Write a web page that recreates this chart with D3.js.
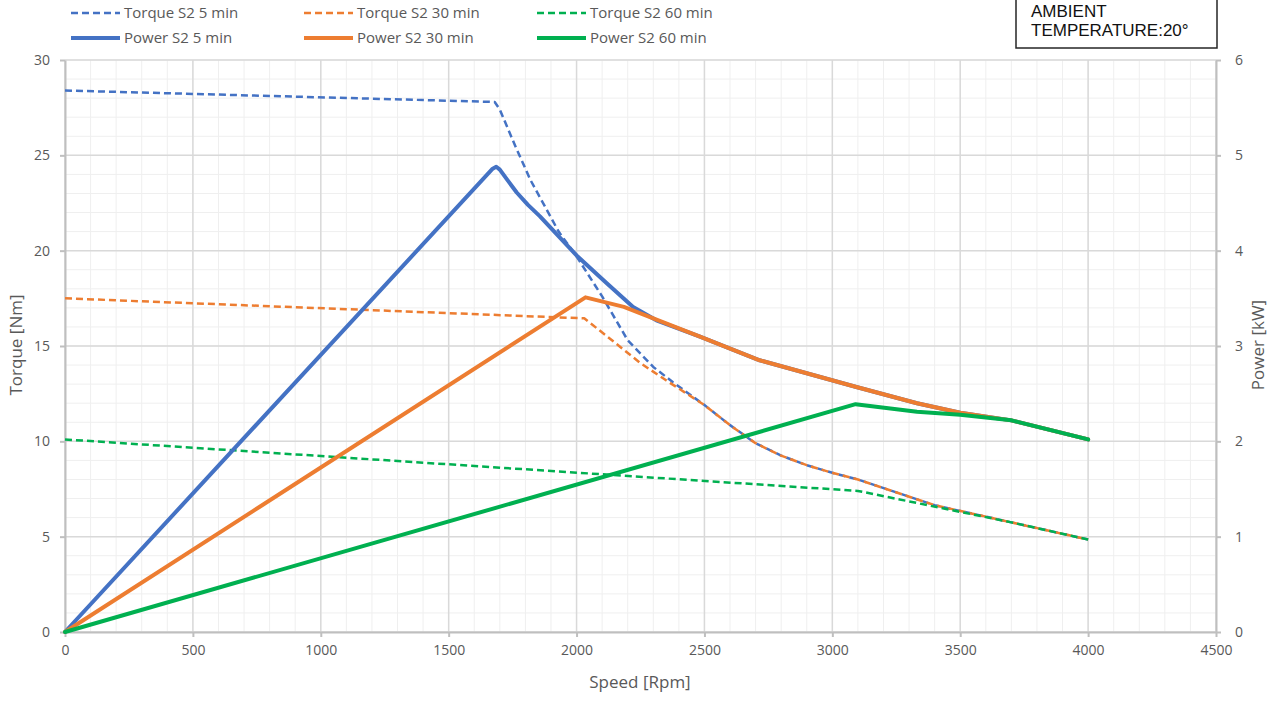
<!DOCTYPE html>
<html>
<head>
<meta charset="utf-8">
<script src="https://cdn.jsdelivr.net/npm/d3@7"></script>
<style>
body { margin: 0; background: #fff; }
svg text { font-family: "Open Sans", "Noto Sans", sans-serif; fill: #595959; }
</style>
</head>
<body>
<svg id="chart" width="1280" height="706"></svg>
<script>
// speed [rpm] / torque [Nm]
var torque5 = [[0, 28.4], [1680, 27.8], [1700, 27.4], [1760, 25.5], [1820, 23.7], [1930, 21.0], [2000, 19.7],
	[2100, 17.6], [2200, 15.3], [2300, 13.9], [2377, 13.1], [2500, 11.9], [2600, 10.85], [2700, 9.9],
	[2800, 9.25], [2900, 8.75], [3000, 8.35], [3100, 8.0], [3400, 6.65], [3700, 5.75], [4000, 4.85]];
var torque30 = [[0, 17.5], [2030, 16.45], [2120, 15.5], [2250, 14.1], [2350, 13.2], [2500, 11.9],
	[2600, 10.85], [2700, 9.9], [2800, 9.25], [2900, 8.75], [3000, 8.35], [3100, 8.0], [3400, 6.65],
	[3700, 5.75], [4000, 4.85]];
var torque60 = [[0, 10.1], [3100, 7.4], [3700, 5.75], [4000, 4.85]];

// speed [rpm] / power [kW]
var power5 = [[0, 0], [1672, 4.86], [1686, 4.88], [1700, 4.85], [1730, 4.74], [1766, 4.61], [1810, 4.48],
	[1857, 4.36], [2000, 3.95], [2117, 3.66], [2221, 3.41], [2312, 3.27], [2480, 3.1], [2716, 2.85],
	[3094, 2.57], [3331, 2.4], [3500, 2.3], [3700, 2.22], [4000, 2.02]];
var power30 = [[0, 0], [2035, 3.51], [2185, 3.41], [2300, 3.29], [2480, 3.1], [2716, 2.85], [3094, 2.57],
	[3331, 2.4], [3500, 2.3], [3700, 2.22], [4000, 2.02]];
var power60 = [[0, 0], [3091, 2.39], [3331, 2.31], [3500, 2.28], [3700, 2.22], [4000, 2.02]];

var seriesNames = ["Torque S2 5 min", "Torque S2 30 min", "Torque S2 60 min",
	"Power S2 5 min", "Power S2 30 min", "Power S2 60 min"];
var seriesColors = ["#4472C4", "#ED7D31", "#00B050"];

var speedTicks = [0, 500, 1000, 1500, 2000, 2500, 3000, 3500, 4000, 4500];
var torqueTicks = [0, 5, 10, 15, 20, 25, 30];
var powerTicks = [0, 1, 2, 3, 4, 5, 6];

var svg = d3.select("#chart");

var x = d3.scaleLinear().domain([0, 4500]).range([65, 1216]);
var yT = d3.scaleLinear().domain([0, 30]).range([632, 60]);
var yP = d3.scaleLinear().domain([0, 6]).range([632, 60]);

// grid
var grid = svg.append("g");
grid.selectAll("line.minx")
	.data(d3.range(0, 4501, 100))
	.enter().append("line")
	.attr("x1", function (d) { return x(d); })
	.attr("x2", function (d) { return x(d); })
	.attr("y1", yT(30))
	.attr("y2", yT(0))
	.style("stroke", "#efefef")
	.style("stroke-width", 1);
grid.selectAll("line.miny")
	.data(d3.range(0, 31, 1))
	.enter().append("line")
	.attr("x1", x(0))
	.attr("x2", x(4500))
	.attr("y1", function (d) { return yT(d); })
	.attr("y2", function (d) { return yT(d); })
	.style("stroke", "#efefef")
	.style("stroke-width", 1);
grid.selectAll("line.majx")
	.data(speedTicks)
	.enter().append("line")
	.attr("x1", function (d) { return x(d); })
	.attr("x2", function (d) { return x(d); })
	.attr("y1", yT(30))
	.attr("y2", yT(0))
	.style("stroke", "#d9d9d9")
	.style("stroke-width", 1.5);
grid.selectAll("line.majy")
	.data(torqueTicks)
	.enter().append("line")
	.attr("x1", x(0))
	.attr("x2", x(4500))
	.attr("y1", function (d) { return yT(d); })
	.attr("y2", function (d) { return yT(d); })
	.style("stroke", "#d9d9d9")
	.style("stroke-width", 1.5);

// axes
function styleAxis(g) {
	g.selectAll("path, line").style("stroke", "#bfbfbf").style("stroke-width", 2);
	g.selectAll("text").style("font-size", "14px").style("fill", "#595959");
}
var fmt = d3.format("d");

svg.append("g")
	.attr("transform", "translate(0," + yT(0) + ")")
	.call(d3.axisBottom(x).tickValues(speedTicks).tickFormat(fmt).tickSize(5).tickSizeOuter(0).tickPadding(8))
	.call(styleAxis);

svg.append("g")
	.attr("transform", "translate(" + x(0) + ",0)")
	.call(d3.axisLeft(yT).tickValues(torqueTicks).tickFormat(fmt).tickSize(5).tickSizeOuter(0).tickPadding(10))
	.call(styleAxis);

svg.append("g")
	.attr("transform", "translate(" + x(4500) + ",0)")
	.call(d3.axisRight(yP).tickValues(powerTicks).tickFormat(fmt).tickSize(5).tickSizeOuter(0).tickPadding(14))
	.call(styleAxis);

svg.append("text")
	.attr("x", 640)
	.attr("y", 688)
	.attr("text-anchor", "middle")
	.style("font-size", "17px")
	.text("Speed [Rpm]");

svg.append("text")
	.attr("transform", "translate(22,345) rotate(-90)")
	.attr("text-anchor", "middle")
	.style("font-size", "17px")
	.text("Torque [Nm]");

svg.append("text")
	.attr("transform", "translate(1264,345) rotate(-90)")
	.attr("text-anchor", "middle")
	.style("font-size", "17px")
	.text("Power [kW]");

// series
var lineT = d3.line()
	.x(function (d) { return x(d[0]); })
	.y(function (d) { return yT(d[1]); });
var lineP = d3.line()
	.x(function (d) { return x(d[0]); })
	.y(function (d) { return yP(d[1]); });

var torqueSeries = [torque5, torque30, torque60];
var powerSeries = [power5, power30, power60];

torqueSeries.forEach(function (data, i) {
	svg.append("path")
		.datum(data)
		.attr("d", lineT)
		.style("fill", "none")
		.style("stroke", seriesColors[i])
		.style("stroke-width", 2.5)
		.style("stroke-dasharray", "7,4")
		.style("stroke-linejoin", "round");
});

powerSeries.forEach(function (data, i) {
	svg.append("path")
		.datum(data)
		.attr("d", lineP)
		.style("fill", "none")
		.style("stroke", seriesColors[i])
		.style("stroke-width", 4)
		.style("stroke-linejoin", "round")
		.style("stroke-linecap", "round");
});

// legend
var legendX = [71, 304, 537];
var legendY = [13, 38];
seriesNames.forEach(function (name, i) {
	var col = i % 3, row = Math.floor(i / 3);
	var g = svg.append("g")
		.attr("transform", "translate(" + legendX[col] + "," + legendY[row] + ")");
	g.append("line")
		.attr("x1", 0)
		.attr("x2", 49)
		.attr("y1", 0)
		.attr("y2", 0)
		.style("stroke", seriesColors[col])
		.style("stroke-width", row === 0 ? 2.5 : 4)
		.style("stroke-dasharray", row === 0 ? "7,4" : null);
	g.append("text")
		.attr("x", 53)
		.attr("y", 5)
		.style("font-size", "15px")
		.text(name);
});

// ambient box
svg.append("rect")
	.attr("x", 1016)
	.attr("y", -2)
	.attr("width", 201)
	.attr("height", 50)
	.style("fill", "#fff")
	.style("stroke", "#262626")
	.style("stroke-width", 1.5);
svg.append("text")
	.attr("x", 1031)
	.attr("y", 17)
	.style("font-family", "'Liberation Sans', Arial, sans-serif")
	.style("font-size", "17px")
	.style("fill", "#111")
	.text("AMBIENT");
svg.append("text")
	.attr("x", 1031)
	.attr("y", 36)
	.style("font-family", "'Liberation Sans', Arial, sans-serif")
	.style("font-size", "17px")
	.style("fill", "#111")
	.text("TEMPERATURE:20°");
</script>
</body>
</html>
